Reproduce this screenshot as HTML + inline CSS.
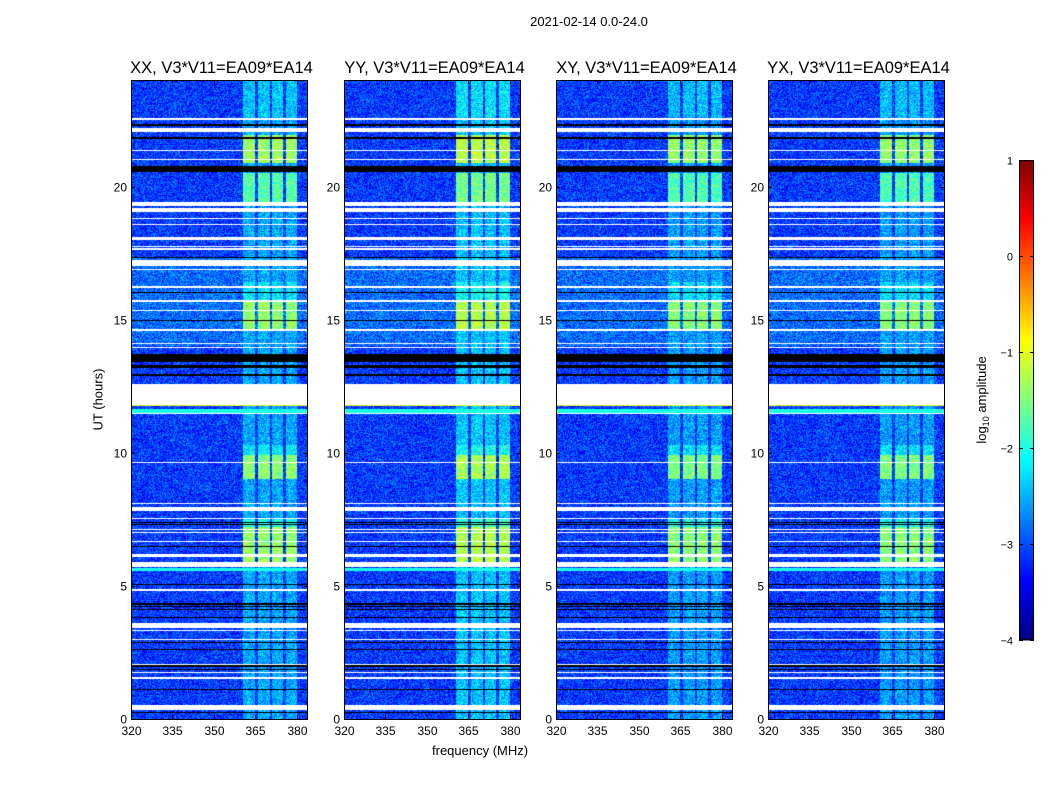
<!DOCTYPE html>
<html><head><meta charset="utf-8">
<style>
body{margin:0;background:#fff;width:1050px;height:800px;position:relative;overflow:hidden;font-family:"Liberation Sans",sans-serif;color:#000}
.t{position:absolute;white-space:nowrap}
canvas{position:absolute}
</style></head><body>
<div class="t" style="left:0;width:1178px;top:14px;text-align:center;font-size:13px">2021-02-14 0.0-24.0</div>
<div class="t" style="left:432px;top:743px;font-size:13px">frequency (MHz)</div>
<div class="t" style="left:60px;top:392px;font-size:13px;transform:rotate(-90deg);width:76px;text-align:center">UT (hours)</div>
<svg id="ov" width="1050" height="800" style="position:absolute;left:0;top:0"></svg>
<script>
// ---- data ----
const panelTitles=["XX, V3*V11=EA09*EA14","YY, V3*V11=EA09*EA14","XY, V3*V11=EA09*EA14","YX, V3*V11=EA09*EA14"];
const panelGain=[0,0.15,-0.05,-0.05];
const xTicks=[320,335,350,365,380];
const yTicks=[0,5,10,15,20];
const cbTicks=[1,0,-1,-2,-3,-4];
const channelGroups=[[360.5,364.8],[365.8,370.1],[370.9,375.1],[375.9,379.9]];
// [startHour,endHour,logAmp] signal level in the bright channels (later entries override)
const signalSegments=[[0,24,-2.55],[22.6,24,-2.4],[20.9,21.95,-1.35],[19.4,20.5,-1.7],[14.6,15.7,-1.4],[15.7,16.4,-2.2],[9.0,9.9,-1.45],[9.9,10.3,-2.2],[5.9,7.2,-1.4],[7.2,7.5,-2.0]];
// [startHour,endHour,logAmp] background level
const bgSegments=[[0,24,-3.1],[14,17.3,-2.85]];
// [startHour,endHour,logAmp] full-width bands
const fullBands=[[11.5,11.64,-2.0],[11.74,11.8,-1.0],[5.56,5.66,-2.0]];
const whiteFlags=[[22.48,22.57],[22.05,22.2],[21.32,21.38],[20.98,21.04],[19.28,19.4],[19.05,19.21],[18.78,18.83],[18.55,18.6],[17.99,18.11],[17.73,17.78],[17.63,17.68],[17.01,17.24],[16.86,16.91],[16.2,16.25],[15.68,15.73],[15.33,15.38],[14.58,14.63],[14.08,14.13],[13.92,13.97],[11.8,12.6],[11.46,11.5],[9.62,9.67],[8.08,8.13],[7.82,7.97],[7.51,7.56],[7.08,7.13],[6.98,7.03],[6.64,6.69],[6.14,6.18],[6.08,6.12],[5.72,5.88],[4.82,4.87],[3.43,3.59],[3.29,3.33],[2.97,3.02],[2.03,2.08],[1.72,1.77],[1.51,1.56],[0.34,0.53]];
const blackFlags=[[22.27,22.33],[21.8,21.85],[20.53,20.78],[17.3,17.35],[16.0,16.04],[14.95,15.0],[13.4,13.7],[13.2,13.3],[12.88,12.95],[7.36,7.4],[7.29,7.33],[6.45,6.49],[5.03,5.07],[4.3,4.34],[4.2,4.24],[4.1,4.14],[3.8,3.84],[2.85,2.89],[2.59,2.63],[1.97,2.01],[1.85,1.89],[1.09,1.13],[0.22,0.26]];
// ---- layout ----
const panelX=[131,344,556,768], PW=177, PT=80, PB=719, PH=PB-PT;
const fMin=320,fMax=384,hMin=0,hMax=24;
const xs=(f,i)=>panelX[i]+(f-fMin)/(fMax-fMin)*PW;
const ys=h=>PB-(h-hMin)/(hMax-hMin)*PH;
const cbX=1019,cbW=15,cbT=160,cbB=640;
const cbY=v=>cbB-(v+4)/5*(cbB-cbT);
function jet(t){t=Math.max(0,Math.min(1,t));
 const r=Math.max(0,Math.min(1,Math.min(4*t-1.5,-4*t+4.5)));
 const g=Math.max(0,Math.min(1,Math.min(4*t-0.5,-4*t+3.5)));
 const b=Math.max(0,Math.min(1,Math.min(4*t+0.5,-4*t+2.5)));
 return [r*255|0,g*255|0,b*255|0];}
function hsh(a,b,c){let x=(a*374761393+b*668265263+c*2147483647)|0;x=(x^(x>>>13))*1274126177|0;x=x^(x>>>16);return ((x>>>0)%10000)/10000;}
function inSeg(arr,h){for(const s of arr){if(h>=s[0]&&h<s[1])return s;}return null;}
function level(arr,h){let v=null;for(const s of arr){if(h>=s[0]&&h<s[1])v=s[2];}return v;}
const ov=document.getElementById('ov');const NS='http://www.w3.org/2000/svg';
function mk(tag,at,txt){const e=document.createElementNS(NS,tag);for(const k in at)e.setAttribute(k,at[k]);if(txt!=null)e.textContent=txt;ov.appendChild(e);return e;}
for(let i=0;i<4;i++){
 const cv=document.createElement('canvas');cv.width=PW;cv.height=PH;
 cv.style.left=panelX[i]+'px';cv.style.top=PT+'px';
 
 
 document.body.insertBefore(cv,ov);
 const ctx=cv.getContext('2d');const img=ctx.createImageData(PW,PH);
 for(let r=0;r<PH;r++){
  const h=hMax-(r+0.5)/PH*(hMax-hMin);
  const white=inSeg(whiteFlags,h),black=inSeg(blackFlags,h);
  const fb=level(fullBands,h);const bg=level(bgSegments,h);const sig=level(signalSegments,h);
  for(let c=0;c<PW;c++){
   const f=fMin+(c+0.5)/PW*(fMax-fMin);let col;
   if(white)col=[255,255,255];else if(black)col=[0,0,0];
   else{
    const n=(hsh(r,c,i)-0.5);
    let v=bg+n*1.0;
    if(fb!=null)v=fb+n*0.2;
    else if(sig!=null){for(const g of channelGroups){if(f>=g[0]&&f<g[1]){v=Math.max(v,sig+panelGain[i]+n*0.9);}}}
    col=jet((v+4)/5);
   }
   const k=(r*PW+c)*4;img.data[k]=col[0];img.data[k+1]=col[1];img.data[k+2]=col[2];img.data[k+3]=255;
  }
 }
 ctx.putImageData(img,0,0);
 const x0=panelX[i];
 let e=mk('rect',{x:x0+0.5,y:PT+0.5,width:PW-1,height:PH,fill:'none',stroke:'#000','stroke-width':1});
 
 e=mk('text',{x:x0+PW/2+2,y:73,'text-anchor':'middle','font-size':16.5,'font-family':'Liberation Sans'},panelTitles[i]);
 
 for(const t of xTicks){const x=Math.round(xs(t,i))+0.5;
  mk('line',{x1:x,x2:x,y1:PB,y2:PB-4,stroke:'#000'});mk('line',{x1:x,x2:x,y1:PT,y2:PT+4,stroke:'#000'});
  e=mk('text',{x:x,y:735,'text-anchor':'middle','font-size':12,'font-family':'Liberation Sans'},t);
  }
 for(const t of yTicks){const y=Math.round(ys(t))+0.5;
  mk('line',{x1:x0,x2:x0+4,y1:y,y2:y,stroke:'#000'});mk('line',{x1:x0+PW-4,x2:x0+PW,y1:y,y2:y,stroke:'#000'});
  e=mk('text',{x:x0-4,y:y+4,'text-anchor':'end','font-size':12,'font-family':'Liberation Sans'},t);
  }
}
// colorbar
const N=120;
for(let k=0;k<N;k++){const v0=-4+5*k/N,v1=-4+5*(k+1)/N;const c=jet((v0+v1)/2/5+0.8);
 const e=mk('rect',{x:cbX,y:cbY(v1),width:cbW,height:cbY(v0)-cbY(v1)+0.5,fill:'rgb('+c.join(',')+')'});
 }
let e=mk('rect',{x:cbX+0.5,y:cbT+0.5,width:cbW-1,height:cbB-cbT-1,fill:'none',stroke:'#000'});

for(const t of cbTicks){const y=Math.round(cbY(t))+0.5;
 mk('line',{x1:cbX,x2:cbX+4,y1:y,y2:y,stroke:'#000'});mk('line',{x1:cbX+cbW-4,x2:cbX+cbW,y1:y,y2:y,stroke:'#000'});
 e=mk('text',{x:1013,y:y+4,'text-anchor':'end','font-size':11,'font-family':'Liberation Sans'},t<0?'\u2212'+(-t):String(t));
 }
e=mk('text',{transform:'translate(986,400) rotate(-90)','text-anchor':'middle','font-size':13,'font-family':'Liberation Sans'});
e.innerHTML='log<tspan font-size="9" dy="3">10</tspan><tspan dy="-3"> amplitude</tspan>';

</script>
</body></html>
